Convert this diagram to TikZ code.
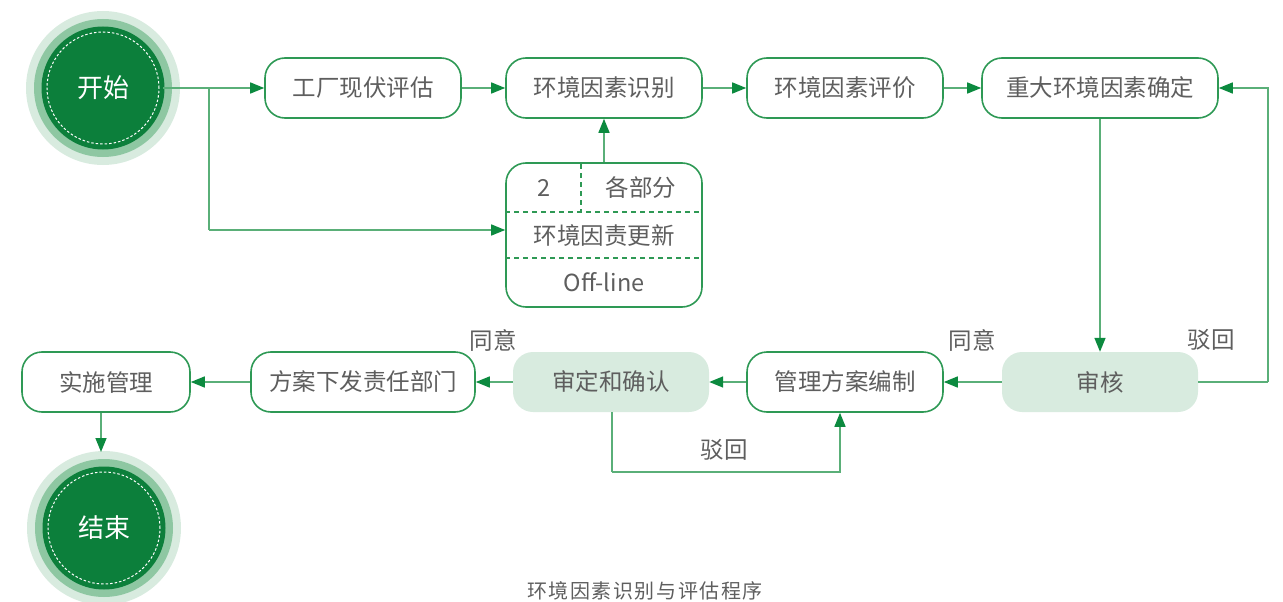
\documentclass[tikz,border=0pt]{standalone}
\usepackage{fontspec}
\setmainfont{Noto Sans CJK SC}
\usetikzlibrary{arrows.meta}
\definecolor{bordergreen}{HTML}{2E9955}
\definecolor{linegreen}{HTML}{5AAF78}
\definecolor{arrowgreen}{HTML}{0C8A3F}
\definecolor{paleGreen}{HTML}{D8EBDF}
\definecolor{ringGreen}{HTML}{8EC7A2}
\definecolor{darkGreen}{HTML}{0C7F3B}
\definecolor{txtgray}{HTML}{5E5E5E}
\tikzset{
  box/.style={draw=bordergreen, line width=1.6pt, rounded corners=20pt, fill=white,
    minimum height=60pt, inner sep=0pt, text=txtgray, font=\fontsize{23.5}{26}\selectfont},
  greybox/.style={fill=paleGreen, rounded corners=20pt,
    minimum height=60pt, inner sep=0pt, text=txtgray, font=\fontsize{23.5}{26}\selectfont},
  conn/.style={draw=linegreen, line width=1.5pt, -{Triangle[length=14pt,width=11pt,color=arrowgreen]}},
  plainconn/.style={draw=linegreen, line width=1.5pt},
  lbl/.style={text=txtgray, font=\fontsize{23.5}{26}\selectfont, inner sep=0pt},
  inlbl/.style={text=txtgray, font=\fontsize{23.5}{26}\selectfont, inner sep=0pt},
  dsh/.style={draw=bordergreen, line width=1.4pt, dash pattern=on 5pt off 4pt},
}
\newcommand{\termcircle}[3]{%
  \fill[paleGreen] (#1) circle (77pt);
  \fill[ringGreen] (#1) circle (69pt);
  \fill[darkGreen] (#1) circle (61.5pt);
  \draw[white, line width=1pt, dash pattern=on 2.5pt off 2pt] (#1) circle (56pt);
  \node[text=white, font=\fontsize{26}{28}\selectfont, inner sep=0pt, minimum size=120pt] (#2) at (#1) {#3};
}
\begin{document}
\begin{tikzpicture}[x=1pt,y=-1pt]
\useasboundingbox (0,0) rectangle (1283,602);
% start / end
\termcircle{103,88}{start}{开始}
\termcircle{104,528}{finish}{结束}
% top row
\node[box, minimum width=196pt] (a1) at (363,88) {工厂现伏评估};
\node[box, minimum width=196pt] (a2) at (604,88) {环境因素识别};
\node[box, minimum width=196pt] (a3) at (845,88) {环境因素评价};
\node[box, minimum width=236pt] (a4) at (1100,88) {重大环境因素确定};
% table box
\node[draw=bordergreen, line width=1.6pt, rounded corners=20pt, minimum width=196pt, minimum height=144pt, inner sep=0pt] (tb) at (604,235) {};
\draw[dsh] (tb.west |- 0,212) -- (tb.east |- 0,212);
\draw[dsh] (tb.west |- 0,258) -- (tb.east |- 0,258);
\draw[dsh] (581,164) -- (581,212);
\node[inlbl] (t1) at (544,188) {2};
\node[inlbl] (t2) at (641,188) {各部分};
\node[inlbl] (t3) at (604,236) {环境因责更新};
\node[inlbl] (t4) at (604,282) {Off-line};
% bottom row
\node[box, minimum width=168pt] (b1) at (106,382) {实施管理};
\node[box, minimum width=224pt] (b2) at (363,382) {方案下发责任部门};
\node[greybox, minimum width=196pt] (b3) at (611,382) {审定和确认};
\node[box, minimum width=196pt] (b4) at (845,382) {管理方案编制};
\node[greybox, minimum width=196pt] (b5) at (1100,382) {审核};
% labels
\node[lbl] (l1) at (493,340) {同意};
\node[lbl] (l2) at (972,340) {同意};
\node[lbl] (l3) at (1211,340) {驳回};
\node[lbl] (l4) at (724,450) {驳回};
\node[text=txtgray, font=\fontsize{20}{22}\selectfont\addfontfeature{LetterSpace=8}, inner sep=0pt] (cap) at (645,591) {环境因素识别与评估程序};
% coordinates
\coordinate (br) at (209,88);
\coordinate (brd) at (209,230);
\coordinate (rr) at (1268,382);
\coordinate (ru) at (1268,88);
\coordinate (ld) at (612,472);
\coordinate (lr) at (840,472);
% connectors
\draw[conn] (start.east |- br) -- (a1.west);
\draw[plainconn] (br) -- (brd);
\draw[conn] (brd) -- (tb.west |- brd);
\draw[conn] (a1) -- (a2);
\draw[conn] (a2) -- (a3);
\draw[conn] (a3) -- (a4);
\draw[conn] (tb.north) -- (a2.south);
\draw[conn] (a4.south) -- (b5.north);
\draw[plainconn] (b5.east) -- (rr);
\draw[conn] (rr) -- (ru) -- (a4.east);
\draw[conn] (b5) -- (b4);
\draw[conn] (b4) -- (b3);
\draw[plainconn] (b3.south -| ld) -- (ld);
\draw[conn] (ld) -- (lr) -- (b4.south -| lr);
\draw[conn] (b3) -- (b2);
\draw[conn] (b2) -- (b1);
\draw[conn] (b1.south -| 101,0) -- (101,452);
\end{tikzpicture}
\end{document}
